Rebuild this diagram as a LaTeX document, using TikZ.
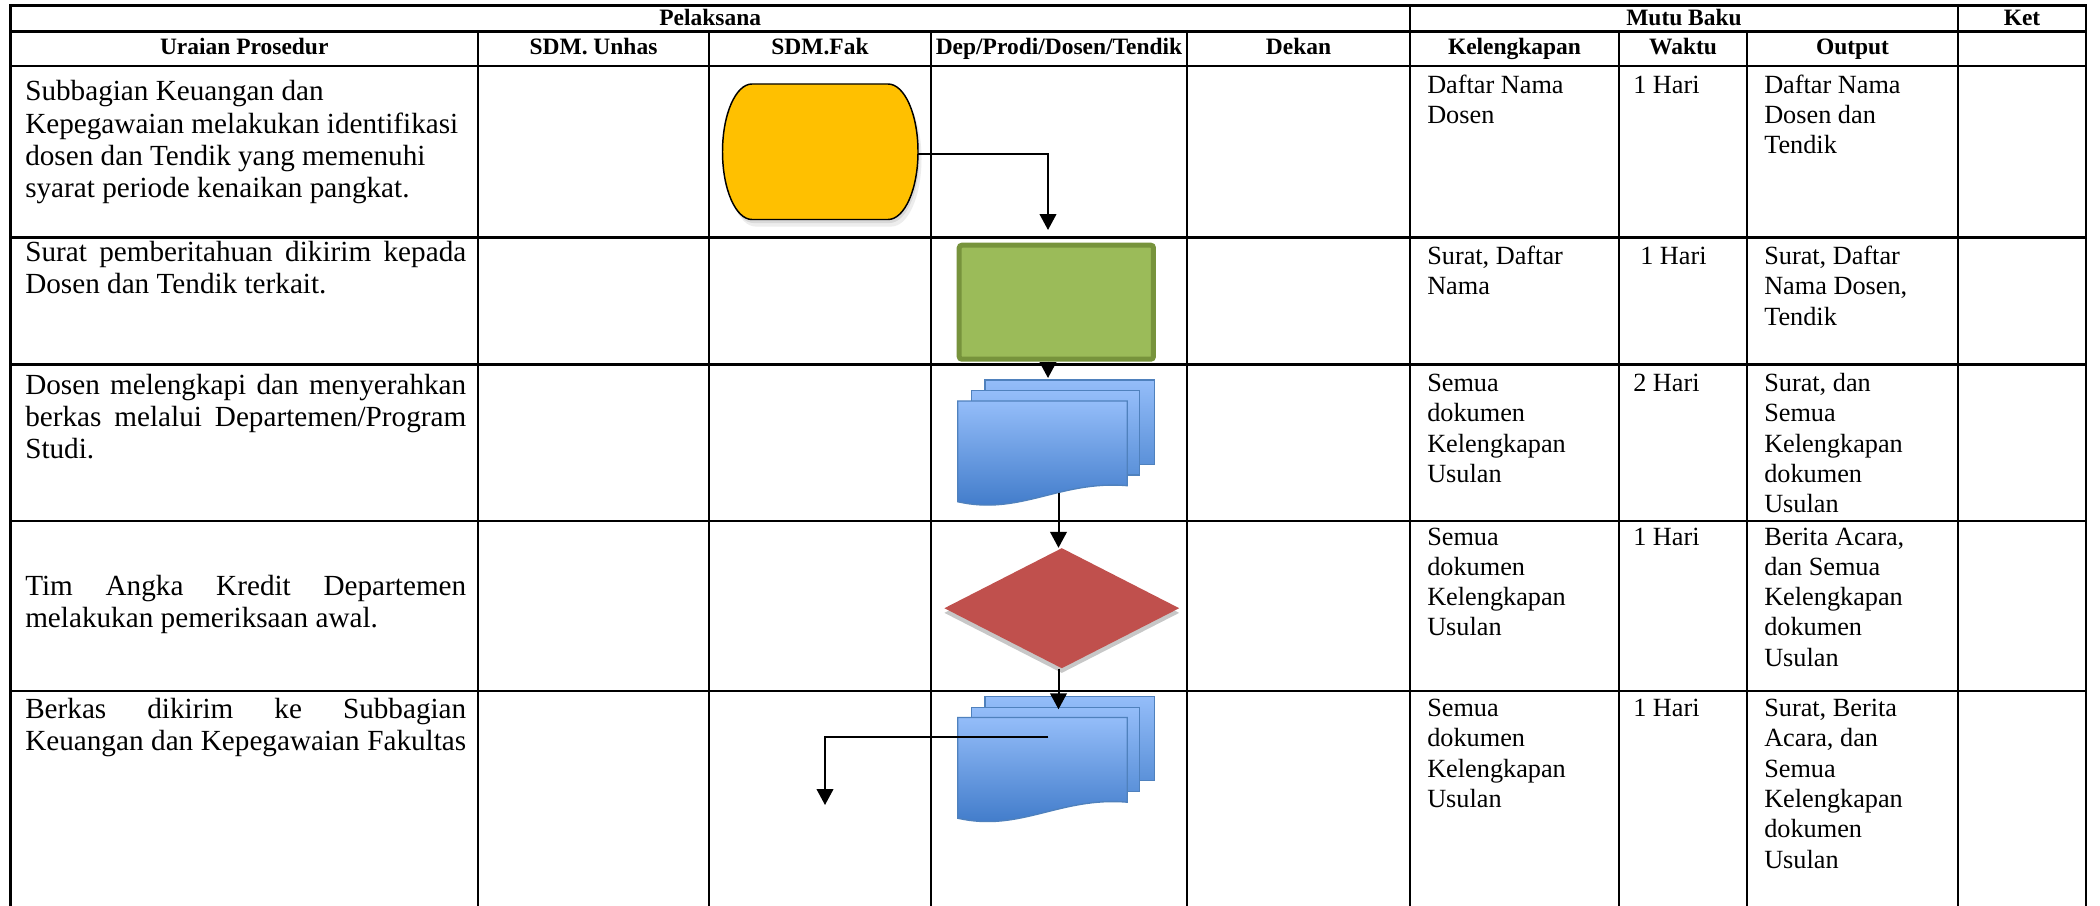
\documentclass[tikz,border=0pt]{standalone}
\usepackage{fontspec}
\setmainfont{Liberation Serif}
\usetikzlibrary{arrows.meta,shapes.geometric,shadows,calc}
\definecolor{termyellow}{HTML}{FFC000}
\definecolor{boxgreen}{HTML}{9BBB59}
\definecolor{boxgreenedge}{HTML}{77933C}
\definecolor{decred}{HTML}{C0504D}
\definecolor{doclight}{HTML}{94BDF9}
\definecolor{docdark}{HTML}{3A76C6}
\definecolor{docmid}{HTML}{5B91D9}
\definecolor{docedge}{HTML}{4F81BD}
\newcommand\lefttext{\fontsize{21.9pt}{24.1pt}\selectfont}
\newcommand\righttext{\fontsize{19.7pt}{22.7pt}\selectfont}
\newcommand\headtext{\fontsize{17.6pt}{20pt}\selectfont\bfseries}
\newcommand\jline[1]{\makebox[\linewidth][s]{#1}}
\newcommand\nline[1]{\mbox{#1}}
\newcommand\lcell[1]{\parbox[t]{330.75pt}{#1}}
\newcommand\rcell[1]{\parbox[t]{150pt}{\raggedright #1}}
\newcommand\multidoc[1]{%
  \begin{scope}[shift={(0,#1)}]
    \path[sheet, bottom color=docmid] (985,380) rectangle (1154.3,464.3);
    \path[sheet, bottom color=docmid] (971.7,390.7) rectangle (1139.3,475);
    \path[sheet, bottom color=docdark] (957.7,401) -- (1127.3,401) -- (1127.3,485.7)
       .. controls (1060,480) and (1020,516) .. (957.7,501.7) -- cycle;
  \end{scope}}
\begin{document}
\begin{tikzpicture}[x=0.75pt,y=-0.75pt,
  tablerule/.style={line width=2pt, line cap=rect},
  hdr/.style={font=\headtext, inner sep=0pt, anchor=base},
  cellL/.style={font=\lefttext, inner sep=0pt, anchor=base west},
  cellR/.style={font=\righttext, inner sep=0pt, anchor=base west},
  arr/.style={line width=1.5pt, -{Triangle[width=12.5pt,length=12pt]}},
  sheet/.style={draw=docedge, line width=1pt, top color=doclight},
  termshape/.style={insert path={(29.5,0) -- (165.5,0) .. controls (182.1,0) and (195.5,30.35) .. (195.5,67.75) .. controls (195.5,105.15) and (182.1,135.5) .. (165.5,135.5) -- (29.5,135.5) .. controls (13.2,135.5) and (0,105.15) .. (0,67.75) .. controls (0,30.35) and (13.2,0) .. (29.5,0) -- cycle}},
  ]
\useasboundingbox (0,0) rectangle (2100,906);
\fill[white] (0,0) rectangle (2100,906);

% table rules
\foreach \yy in {5.5,31.5,66,237.5,364.5,521,691}
  \draw[tablerule] (10.5,\yy) -- (2086,\yy);
\foreach \xx in {10.5,1410,1958,2086}
  \draw[tablerule] (\xx,5.5) -- (\xx,910);
\foreach \xx in {478,709,931,1187,1619,1747}
  \draw[tablerule] (\xx,31.5) -- (\xx,910);

% headers
\node[hdr] (hpel) at (710.25,25.5) {Pelaksana};
\node[hdr] (hmutu) at (1684,25.5) {Mutu Baku};
\node[hdr] (hket) at (2022,25.5) {Ket};
\node[hdr] (hura) at (244.25,54.3) {Uraian Prosedur};
\node[hdr] (hunhas) at (593.5,54.3) {SDM. Unhas};
\node[hdr] (hfak) at (820,54.3) {SDM.Fak};
\node[hdr] (hdep) at (1059,54.3) {Dep/Prodi/Dosen/Tendik};
\node[hdr] (hdek) at (1298.5,54.3) {Dekan};
\node[hdr] (hkel) at (1514.5,54.3) {Kelengkapan};
\node[hdr] (hwak) at (1683,54.3) {Waktu};
\node[hdr] (hout) at (1852.5,54.3) {Output};

% procedure texts
\node[cellL] (p1) at (25,101) {\lcell{\nline{Subbagian Keuangan dan}\\\nline{Kepegawaian melakukan identifikasi}\\\nline{dosen dan Tendik yang memenuhi}\\\nline{syarat periode kenaikan pangkat.}}};
\node[cellL] (p2) at (25,261.7) {\lcell{\jline{Surat pemberitahuan dikirim kepada}\\\nline{Dosen dan Tendik terkait.}}};
\node[cellL] (p3) at (25,394) {\lcell{\jline{Dosen melengkapi dan menyerahkan}\\\jline{berkas melalui Departemen/Program}\\\nline{Studi.}}};
\node[cellL] (p4) at (25,595) {\lcell{\jline{Tim Angka Kredit Departemen}\\\nline{melakukan pemeriksaan awal.}}};
\node[cellL] (p5) at (25,718) {\lcell{\jline{Berkas dikirim ke Subbagian}\\\jline{Keuangan dan Kepegawaian Fakultas}}};

% kelengkapan
\node[cellR] (k1) at (1427,93.3) {\rcell{Daftar Nama\\Dosen}};
\node[cellR] (k2) at (1427,264.5) {\rcell{Surat, Daftar\\Nama}};
\node[cellR] (k3) at (1427,391.5) {\rcell{Semua\\dokumen\\Kelengkapan\\Usulan}};
\node[cellR] (k4) at (1427,545) {\rcell{Semua\\dokumen\\Kelengkapan\\Usulan}};
\node[cellR] (k5) at (1427,716.7) {\rcell{Semua\\dokumen\\Kelengkapan\\Usulan}};
% waktu
\node[cellR] (t1) at (1633,93.3) {1 Hari};
\node[cellR] (t2) at (1640,264.5) {1 Hari};
\node[cellR] (t3) at (1633,391.5) {2 Hari};
\node[cellR] (t4) at (1633,545) {1 Hari};
\node[cellR] (t5) at (1633,716.7) {1 Hari};
% output
\node[cellR] (o1) at (1764,93.3) {\rcell{Daftar Nama\\Dosen dan\\Tendik}};
\node[cellR] (o2) at (1764,264.5) {\rcell{Surat, Daftar\\Nama Dosen,\\Tendik}};
\node[cellR] (o3) at (1764,391.5) {\rcell{Surat, dan\\Semua\\Kelengkapan\\dokumen\\Usulan}};
\node[cellR] (o4) at (1764,545) {\rcell{Berita Acara,\\dan Semua\\Kelengkapan\\dokumen\\Usulan}};
\node[cellR] (o5) at (1764,716.7) {\rcell{Surat, Berita\\Acara, dan\\Semua\\Kelengkapan\\dokumen\\Usulan}};

% terminator (start)
\path[fill=black!7, shift={(726,91)}, termshape];
\path[fill=black!15, shift={(724,87.5)}, termshape];
\path[fill=termyellow, draw=black, line width=1.1pt, shift={(722.5,84)}, termshape];
\node[inner sep=0pt, minimum width=146.6pt, minimum height=101.6pt] (start) at (820.25,151.75) {};

% process box
\node[fill=boxgreen, draw=boxgreenedge, line width=3.75pt, rounded corners=2pt,
      minimum width=145.7pt, minimum height=85.5pt, inner sep=0pt] (notif) at (1056.35,302.2) {};

% multi-documents
\multidoc{0}
\multidoc{316.5}
\node[inner sep=0pt, minimum width=147.45pt, minimum height=94.5pt] (doc1) at (1056,443) {};
\node[inner sep=0pt, minimum width=147.45pt, minimum height=94.5pt] (doc2) at (1056,759.5) {};

% decision
\node[diamond, fill=decred, inner sep=0pt, minimum width=176.25pt, minimum height=90.2pt,
      drop shadow={shadow xshift=0pt, shadow yshift=-3.5pt, fill=black, opacity=0.22}] (check) at (1061.8,608.2) {};

% connectors
\coordinate (c1) at (1048,230);
\draw[arr] ([yshift=-2pt]start.east) -| (c1);
\coordinate (c2) at (1048,378);
\draw[arr] (notif.south -| c2) -- (c2);
\coordinate (wv1) at (1058.5,492.7);
\draw[arr] (wv1) -- (wv1 |- check.north);
\coordinate (c4) at (1058.5,709.3);
\draw[arr] (check.south -| c4) -- (c4);
\coordinate (wv2) at (1048.3,736.7);
\coordinate (c5) at (825,805);
\draw[arr] (wv2) -| (c5);
\end{tikzpicture}
\end{document}
